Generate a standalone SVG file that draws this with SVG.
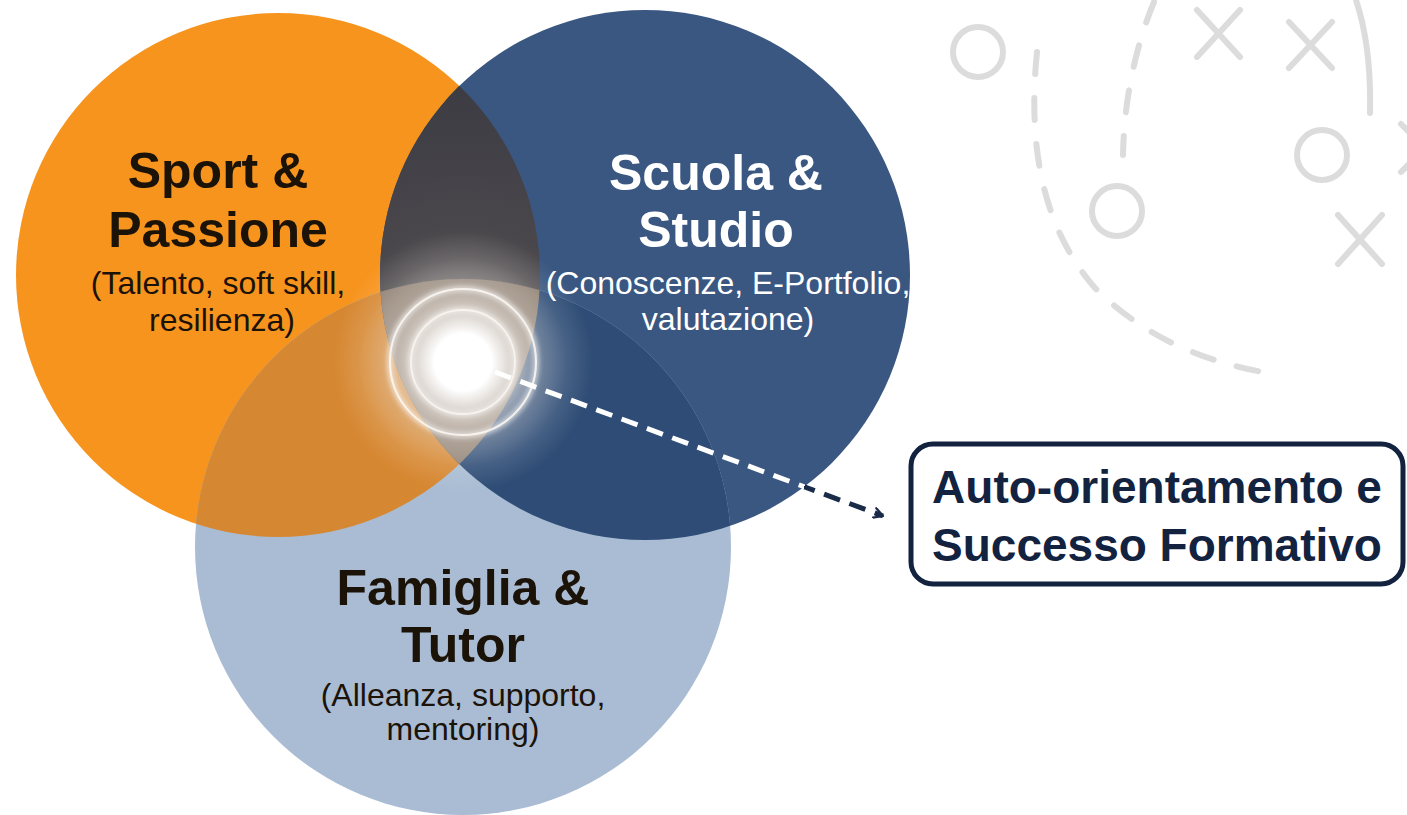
<svg xmlns="http://www.w3.org/2000/svg" width="1407" height="815" viewBox="0 0 1407 815">
<defs>
<style>
.title{font-family:"Liberation Sans",Arial,sans-serif;font-weight:bold;font-size:50px;text-anchor:middle}
.sub{font-family:"Liberation Sans",Arial,sans-serif;font-size:32px;text-anchor:middle}
.dark{fill:#1b1208}
.light{fill:#ffffff}
.deco{fill:none;stroke:#dcdcdc;stroke-width:6;stroke-linecap:round}
.boxtxt{font-family:"Liberation Sans",Arial,sans-serif;font-weight:bold;font-size:46px;text-anchor:middle;fill:#13233f}
</style>
<clipPath id="cO"><circle cx="278" cy="275" r="262"/></clipPath>
<clipPath id="cB"><circle cx="645" cy="275" r="265"/></clipPath>
<radialGradient id="gDark" gradientUnits="userSpaceOnUse" cx="463" cy="362" r="300">
<stop offset="0" stop-color="#7d756f"/>
<stop offset="0.45" stop-color="#4a474c"/>
<stop offset="1" stop-color="#3a3a42"/>
</radialGradient>
<radialGradient id="gGlow" gradientUnits="userSpaceOnUse" cx="463" cy="362" r="130">
<stop offset="0" stop-color="#ffffff" stop-opacity="1"/>
<stop offset="0.22" stop-color="#ffffff" stop-opacity="1"/>
<stop offset="0.42" stop-color="#f4f0ec" stop-opacity="0.65"/>
<stop offset="0.6" stop-color="#ece8e4" stop-opacity="0.35"/>
<stop offset="0.8" stop-color="#ffffff" stop-opacity="0.12"/>
<stop offset="1" stop-color="#ffffff" stop-opacity="0"/>
</radialGradient>
<linearGradient id="gLine" gradientUnits="userSpaceOnUse" x1="495" y1="372" x2="883" y2="516">
<stop offset="0" stop-color="#ffffff"/>
<stop offset="0.797" stop-color="#ffffff"/>
<stop offset="0.797" stop-color="#1a2b48"/>
<stop offset="1" stop-color="#1a2b48"/>
</linearGradient>
<filter id="blur" x="-50%" y="-50%" width="200%" height="200%"><feGaussianBlur stdDeviation="2.5"/></filter>
<marker id="arr" viewBox="0 0 12 12" refX="10" refY="6" markerWidth="12" markerHeight="12" markerUnits="userSpaceOnUse" orient="auto">
<path d="M1,1 L10,6 L1,11" fill="none" stroke="#1a2b48" stroke-width="2.2" stroke-linecap="round" stroke-linejoin="round"/>
</marker>
</defs>
<rect x="0" y="0" width="1407" height="815" fill="#ffffff"/>

<g id="decor">
<circle class="deco" cx="978" cy="52" r="25"/>
<circle class="deco" cx="1322" cy="155" r="25"/>
<circle class="deco" cx="1117" cy="211" r="25"/>
<path class="deco" d="M1197,10 L1240,57 M1240,10 L1197,57"/>
<path class="deco" d="M1289,22 L1332,68 M1332,22 L1289,68"/>
<path class="deco" d="M1338,215 L1382,264 M1382,215 L1338,264"/>
<path class="deco" d="M1401,124 L1449,172 M1449,124 L1401,172"/>
<path class="deco" d="M1037,52 C1028,140 1040,225 1095,288 C1145,338 1205,362 1268,373" stroke-dasharray="22 24"/>
<path class="deco" d="M1154,2 C1138,40 1124,95 1123,155" stroke-dasharray="22 24"/>
<path class="deco" d="M1356,0 C1366,30 1371,70 1370,113"/>
</g>

<g id="sport">
<circle cx="278" cy="275" r="262" fill="#f7941e"/>
</g>
<g id="scuola">
<circle cx="645" cy="275" r="265" fill="#3a5781"/>
</g>
<g id="famiglia">
<circle cx="463" cy="547" r="268" fill="#a9bcd3"/>
</g>

<g id="overlaps">
<circle cx="645" cy="275" r="265" fill="url(#gDark)" clip-path="url(#cO)"/>
<circle cx="463" cy="547" r="268" fill="#d68731" clip-path="url(#cO)"/>
<circle cx="463" cy="547" r="268" fill="#2e4c75" clip-path="url(#cB)"/>
<g clip-path="url(#cO)"><circle cx="463" cy="547" r="268" fill="#8e7e70" clip-path="url(#cB)"/></g>
</g>

<g id="glow">
<circle cx="463" cy="362" r="130" fill="url(#gGlow)"/>
<circle cx="463" cy="362" r="52" fill="none" stroke="#ffffff" stroke-width="5" opacity="0.6" filter="url(#blur)"/>
<circle cx="463" cy="362" r="52" fill="none" stroke="#fbf6f0" stroke-width="1.8" opacity="0.85"/>
<circle cx="463" cy="362" r="73" fill="none" stroke="#ffffff" stroke-width="6" opacity="0.6" filter="url(#blur)"/>
<circle cx="463" cy="362" r="73" fill="none" stroke="#fbf6f0" stroke-width="2" opacity="0.9"/>
</g>

<g id="labels">
<text class="title dark" x="218" y="188">Sport &amp;</text>
<text class="title dark" x="218" y="247">Passione</text>
<text class="sub dark" x="218" y="294">(Talento, soft skill,</text>
<text class="sub dark" x="222" y="331">resilienza)</text>
<text class="title light" x="716" y="190">Scuola &amp;</text>
<text class="title light" x="716" y="247">Studio</text>
<text class="sub light" x="728" y="294">(Conoscenze, E-Portfolio,</text>
<text class="sub light" x="728" y="330">valutazione)</text>
<text class="title dark" x="463" y="605">Famiglia &amp;</text>
<text class="title dark" x="463" y="662">Tutor</text>
<text class="sub dark" x="463" y="706">(Alleanza, supporto,</text>
<text class="sub dark" x="463" y="740">mentoring)</text>
</g>

<g id="connectors">
<path d="M495,372 L883,516" fill="none" stroke="url(#gLine)" stroke-width="5" stroke-dasharray="17 10" marker-end="url(#arr)"/>
</g>

<g id="outcome">
<rect x="911" y="444" width="492" height="140" rx="22" ry="22" fill="#ffffff" stroke="#13233f" stroke-width="5"/>
<text class="boxtxt" x="1157" y="503">Auto-orientamento e</text>
<text class="boxtxt" x="1157" y="561">Successo Formativo</text>
</g>
</svg>
